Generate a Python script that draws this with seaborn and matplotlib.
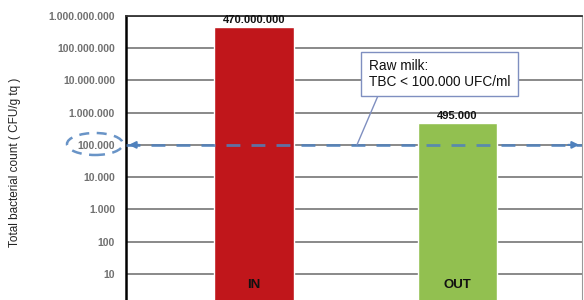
import matplotlib
matplotlib.use("Agg")
import matplotlib.pyplot as plt
import matplotlib.ticker as mticker
from matplotlib.patches import Ellipse
import seaborn as sns
import pandas as pd

stages = ["IN", "OUT"]
counts = [470000000, 495000]
bar_labels = ["470.000.000", "495.000"]
bar_colors = ["#c0161b", "#92c050"]
limit_value = 100000
limit_text = "Raw milk:\nTBC < 100.000 UFC/ml"
y_title = "Total bacterial count ( CFU/g tq )"
y_ticks = [10, 100, 1000, 10000, 100000, 1e6, 1e7, 1e8, 1e9]

sns.set_style("white")
plt.rcParams["font.family"] = ["Liberation Sans", "DejaVu Sans"]

df = pd.DataFrame({"stage": stages, "count": counts})

fig = plt.figure(figsize=(5.84, 3.0), dpi=100)
# axes runs a bit past the bottom edge, like the cropped original
ax = fig.add_axes([126 / 584, -0.02, 456 / 584, 0.9667])
ax.set_yscale("log")

sns.barplot(data=df, x="stage", y="count", hue="stage", palette=bar_colors,
            saturation=1, width=0.39, legend=False, ax=ax, zorder=2)
ax.set_ylim(1, 1e9)
ax.set_xlim(-0.629, 1.612)

def dot_fmt(v, pos):
    return f"{int(round(v)):,}".replace(",", ".")

ax.set_yticks(y_ticks)
ax.yaxis.set_minor_locator(mticker.NullLocator())
ax.yaxis.set_major_formatter(mticker.FuncFormatter(dot_fmt))
ax.tick_params(axis="y", length=0, pad=8, labelsize=7.5, labelcolor="#707070")
for t in ax.get_yticklabels():
    t.set_fontweight("bold")
ax.set_xticks([])
ax.set_xlabel("")
ax.set_ylabel("")
ax.yaxis.grid(True, color="#808080", lw=1.3, zorder=0)
ax.set_axisbelow(True)

ax.spines["left"].set_color("black")
ax.spines["left"].set_linewidth(1.8)
ax.spines["top"].set_color("#333333")
ax.spines["top"].set_linewidth(1.3)
ax.spines["right"].set_color("#999999")
ax.spines["bottom"].set_visible(False)

fig.text(15 / 584, 0.46, y_title, rotation=90, va="center", ha="center",
         fontsize=8.5, color="#222222")

for i, (v, lab) in enumerate(zip(counts, bar_labels)):
    ax.text(i, v * 1.12, lab, ha="center", va="bottom", fontsize=8,
            fontweight="bold", color="#111111")
    ax.text(i, 4.5, stages[i], ha="center", va="center", fontsize=9.5,
            fontweight="bold", color="#111111")

# dashed limit line with arrow heads at both ends
line_color = "#4f81bd"
ax.axhline(limit_value, color=line_color, lw=2, ls=(0, (5, 4)), alpha=0.85, zorder=5)
ax.annotate("", xy=(-0.629, limit_value), xytext=(-0.55, limit_value),
            arrowprops=dict(arrowstyle="-|>", color=line_color, lw=1.5,
                            mutation_scale=10), zorder=6)
ax.annotate("", xy=(1.612, limit_value), xytext=(1.53, limit_value),
            arrowprops=dict(arrowstyle="-|>", color=line_color, lw=1.5,
                            mutation_scale=10), zorder=6)

# callout box
ax.plot([0.506, 0.609], [limit_value, 3.3e6], color="#7f8fc0", lw=1, zorder=6)
ax.text(0.565, 10 ** 7.2, limit_text, ha="left", va="center", fontsize=9.8,
        color="#111111", linespacing=1.15, zorder=7,
        bbox=dict(boxstyle="square,pad=0.55", fc="white", ec="#7f8fc0", lw=1))

# dashed ellipse round the 100.000 tick label
fig.patches.append(Ellipse((95 / 584, 1 - 144 / 300), 56 / 584, 22 / 300,
                           transform=fig.transFigure, fill=False, ec=line_color,
                           lw=1.8, ls=(0, (4, 3)), alpha=0.85))

fig.savefig("out.png", dpi=100)
